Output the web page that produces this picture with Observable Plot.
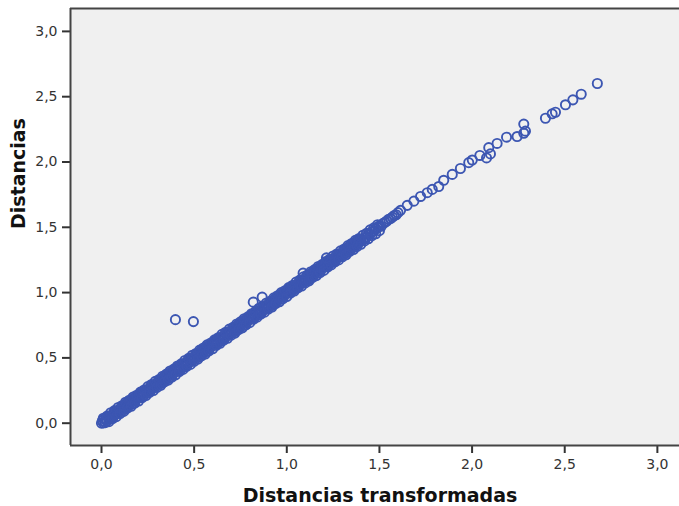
<!DOCTYPE html>
<html>
<head>
<meta charset="utf-8">
<script src="https://cdn.jsdelivr.net/npm/d3@7"></script>
<script src="https://cdn.jsdelivr.net/npm/@observablehq/plot@0.6"></script>
<style>
  html, body { margin: 0; padding: 0; background: #ffffff; }
  #chart svg [aria-label$="axis"] line,
  #chart svg [aria-label$="axis"] path,
  #chart svg [aria-label*="tick"] path { stroke-width: 2px; }
</style>
</head>
<body>
<div id="chart"></div>
<script>
// Dense band (x = Distancias transformadas, y = Distancias)
const bandX = [
  0.000,0.005,0.010,0.015,0.020,0.025,0.030,0.035,0.040,0.045,0.050,0.055,0.060,0.065,0.070,0.075,0.080,0.085,0.090,0.095,
  0.100,0.105,0.110,0.115,0.120,0.125,0.130,0.135,0.140,0.145,0.150,0.155,0.160,0.165,0.170,0.175,0.180,0.185,0.190,0.195,
  0.200,0.205,0.210,0.215,0.220,0.225,0.230,0.235,0.240,0.245,0.250,0.255,0.260,0.265,0.270,0.275,0.280,0.285,0.290,0.295,
  0.300,0.305,0.310,0.315,0.320,0.325,0.330,0.335,0.340,0.345,0.350,0.355,0.360,0.365,0.370,0.375,0.380,0.385,0.390,0.395,
  0.400,0.405,0.410,0.415,0.420,0.425,0.430,0.435,0.440,0.445,0.450,0.455,0.460,0.465,0.470,0.475,0.480,0.485,0.490,0.495,
  0.500,0.505,0.510,0.515,0.520,0.525,0.530,0.535,0.540,0.545,0.550,0.555,0.560,0.565,0.570,0.575,0.580,0.585,0.590,0.595,
  0.600,0.605,0.610,0.615,0.620,0.625,0.630,0.635,0.640,0.645,0.650,0.655,0.660,0.665,0.670,0.675,0.680,0.685,0.690,0.695,
  0.700,0.705,0.710,0.715,0.720,0.725,0.730,0.735,0.740,0.745,0.750,0.755,0.760,0.765,0.770,0.775,0.780,0.785,0.790,0.795,
  0.800,0.805,0.810,0.815,0.820,0.825,0.830,0.835,0.840,0.845,0.850,0.855,0.860,0.865,0.870,0.875,0.880,0.885,0.890,0.895,
  0.900,0.905,0.910,0.915,0.920,0.925,0.930,0.935,0.940,0.945,0.950,0.955,0.960,0.965,0.970,0.975,0.980,0.985,0.990,0.995,
  1.000,1.005,1.010,1.015,1.020,1.025,1.030,1.035,1.040,1.045,1.050,1.055,1.060,1.065,1.070,1.075,1.080,1.085,1.090,1.095,
  1.100,1.105,1.110,1.115,1.120,1.125,1.130,1.135,1.140,1.145,1.150,1.155,1.160,1.165,1.170,1.175,1.180,1.185,1.190,1.195,
  1.200,1.205,1.210,1.215,1.220,1.225,1.230,1.235,1.240,1.245,1.250,1.255,1.260,1.265,1.270,1.275,1.280,1.285,1.290,1.295,
  1.300,1.305,1.310,1.315,1.320,1.325,1.330,1.335,1.340,1.345,1.350,1.355,1.360,1.365,1.370,1.375,1.380,1.385,1.390,1.395,
  1.40,1.41,1.42,1.43,1.44,1.45,1.46,1.47,1.48,1.49,1.50,1.51,1.52,1.53,1.54,1.55,1.56,1.57,1.58,1.59,1.60
];
const bandY = [
  0.000,0.019,0.002,0.033,0.004,0.031,0.018,0.051,0.036,0.055,0.032,0.063,0.062,0.051,0.089,0.069,0.092,0.075,0.094,0.093,
  0.110,0.090,0.127,0.109,0.124,0.106,0.143,0.126,0.158,0.132,0.157,0.152,0.175,0.148,0.171,0.191,0.169,0.194,0.185,0.206,
  0.200,0.219,0.202,0.233,0.204,0.231,0.218,0.251,0.236,0.255,0.232,0.263,0.262,0.251,0.289,0.269,0.292,0.275,0.294,0.293,
  0.310,0.290,0.327,0.309,0.324,0.306,0.343,0.326,0.358,0.332,0.357,0.352,0.375,0.348,0.371,0.391,0.369,0.394,0.385,0.406,
  0.400,0.419,0.402,0.433,0.404,0.431,0.418,0.451,0.436,0.455,0.432,0.463,0.462,0.451,0.489,0.469,0.492,0.475,0.494,0.493,
  0.510,0.490,0.527,0.509,0.524,0.506,0.543,0.526,0.558,0.532,0.557,0.552,0.575,0.548,0.571,0.591,0.569,0.594,0.585,0.606,
  0.600,0.619,0.602,0.633,0.604,0.631,0.618,0.651,0.636,0.655,0.632,0.663,0.662,0.651,0.689,0.669,0.692,0.675,0.694,0.693,
  0.710,0.690,0.727,0.709,0.724,0.706,0.743,0.726,0.758,0.732,0.757,0.752,0.775,0.748,0.771,0.791,0.769,0.794,0.785,0.806,
  0.800,0.819,0.802,0.833,0.804,0.831,0.818,0.851,0.836,0.855,0.832,0.863,0.862,0.851,0.889,0.869,0.892,0.875,0.894,0.893,
  0.910,0.890,0.927,0.909,0.924,0.906,0.943,0.926,0.958,0.932,0.957,0.952,0.975,0.948,0.971,0.991,0.969,0.994,0.985,1.006,
  1.000,1.019,1.002,1.033,1.004,1.031,1.018,1.051,1.036,1.055,1.032,1.063,1.062,1.051,1.089,1.069,1.092,1.075,1.094,1.093,
  1.110,1.090,1.127,1.109,1.124,1.106,1.143,1.126,1.158,1.132,1.157,1.152,1.175,1.148,1.171,1.191,1.169,1.194,1.185,1.206,
  1.200,1.219,1.202,1.233,1.204,1.231,1.218,1.251,1.236,1.255,1.232,1.263,1.262,1.251,1.289,1.269,1.292,1.275,1.294,1.293,
  1.310,1.290,1.327,1.309,1.324,1.306,1.343,1.326,1.358,1.332,1.357,1.352,1.375,1.348,1.371,1.391,1.369,1.394,1.385,1.406,
  1.405,1.402,1.418,1.425,1.448,1.446,1.468,1.472,1.486,1.498,1.512,1.508,1.530,1.538,1.548,1.562,1.566,1.578,1.590,1.596,1.612
];
// Upper and lower fringe of the band
const upperX = [
  0.01,0.03,0.05,0.07,0.09,0.11,0.13,0.15,0.17,0.19,
  0.21,0.23,0.25,0.27,0.29,0.31,0.33,0.35,0.37,0.39,
  0.41,0.43,0.45,0.47,0.49,0.51,0.53,0.55,0.57,0.59,
  0.61,0.63,0.65,0.67,0.69,0.71,0.73,0.75,0.77,0.79,
  0.81,0.83,0.85,0.87,0.89,0.91,0.93,0.95,0.97,0.99,
  1.01,1.03,1.05,1.07,1.09,1.11,1.13,1.15,1.17,1.19,
  1.21,1.23,1.25,1.27,1.29,1.31,1.33,1.35,1.37,1.39,
  1.41,1.43,1.45,1.47,1.49
];
const upperY = [
  0.038,0.054,0.080,0.096,0.120,0.134,0.160,0.176,0.200,0.214,
  0.238,0.254,0.280,0.296,0.320,0.334,0.360,0.376,0.400,0.414,
  0.438,0.454,0.480,0.496,0.520,0.534,0.560,0.576,0.600,0.614,
  0.638,0.654,0.680,0.696,0.720,0.734,0.760,0.776,0.800,0.814,
  0.838,0.854,0.880,0.896,0.920,0.934,0.960,0.976,1.000,1.014,
  1.038,1.054,1.080,1.096,1.120,1.134,1.160,1.176,1.200,1.214,
  1.238,1.254,1.280,1.296,1.320,1.334,1.360,1.376,1.400,1.414,
  1.438,1.454,1.480,1.496,1.520
];
const lowerX = [
  0.04,0.06,0.08,0.10,0.12,0.14,0.16,0.18,0.20,0.22,
  0.24,0.26,0.28,0.30,0.32,0.34,0.36,0.38,0.40,0.42,
  0.44,0.46,0.48,0.50,0.52,0.54,0.56,0.58,0.60,0.62,
  0.64,0.66,0.68,0.70,0.72,0.74,0.76,0.78,0.80,0.82,
  0.84,0.86,0.88,0.90,0.92,0.94,0.96,0.98,1.00,1.02,
  1.04,1.06,1.08,1.10,1.12,1.14,1.16,1.18,1.20,1.22,
  1.24,1.26,1.28,1.30,1.32,1.34,1.36,1.38,1.40,1.42,
  1.44,1.46,1.48,1.50
];
const lowerY = [
  0.012,0.036,0.050,0.074,0.090,0.116,0.130,0.154,0.170,0.196,
  0.212,0.236,0.250,0.274,0.290,0.316,0.330,0.354,0.370,0.396,
  0.412,0.436,0.450,0.474,0.490,0.516,0.530,0.554,0.570,0.596,
  0.612,0.636,0.650,0.674,0.690,0.716,0.730,0.754,0.770,0.796,
  0.812,0.836,0.850,0.874,0.890,0.916,0.930,0.954,0.970,0.996,
  1.012,1.036,1.050,1.074,1.090,1.116,1.130,1.154,1.170,1.196,
  1.212,1.236,1.250,1.274,1.290,1.316,1.330,1.354,1.370,1.396,
  1.412,1.436,1.450,1.474
];
// Sparse upper tail
const tailX = [1.614,1.650,1.686,1.722,1.758,1.785,1.820,1.847,1.893,1.937,1.982,2.001,2.042,2.078,2.090,2.099,2.135,2.186,2.243,2.279,2.279,2.288,2.396,2.432,2.450,2.504,2.544,2.589,2.676];
const tailY = [1.630,1.668,1.700,1.736,1.765,1.790,1.812,1.860,1.905,1.950,1.995,2.015,2.050,2.031,2.110,2.062,2.142,2.190,2.195,2.220,2.290,2.236,2.335,2.369,2.381,2.438,2.476,2.519,2.601];
// Points off the line
const outlierX = [0.399,0.496,0.819,0.867,1.088,1.214];
const outlierY = [0.793,0.778,0.927,0.965,1.149,1.266];

const tickValues = [0, 0.5, 1.0, 1.5, 2.0, 2.5, 3.0];
const xTitle = "Distancias transformadas";
const yTitle = "Distancias";

const xDomain = [-0.1673, 3.1194];
const yDomain = [-0.1708, 3.1753];

const points = [];
bandX.forEach((v, i) => points.push({x: v, y: bandY[i]}));
upperX.forEach((v, i) => points.push({x: v, y: upperY[i]}));
lowerX.forEach((v, i) => points.push({x: v, y: lowerY[i]}));
tailX.forEach((v, i) => points.push({x: v, y: tailY[i]}));
outlierX.forEach((v, i) => points.push({x: v, y: outlierY[i]}));

const fmt = d => d.toFixed(1).replace(".", ",");
const frameColor = "#444444";
const dotColor = "#3c56b2";

const chart = Plot.plot({
  width: 679,
  height: 506,
  marginLeft: 70,
  marginRight: 0,
  marginTop: 8,
  marginBottom: 61,
  style: {fontFamily: "DejaVu Sans, sans-serif", fontSize: "14px", color: "#333333", background: "#ffffff"},
  x: {domain: xDomain, ticks: tickValues, tickFormat: fmt, tickSize: 8, tickPadding: 6, label: null},
  y: {domain: yDomain, ticks: tickValues, tickFormat: fmt, tickSize: 8, tickPadding: 5, label: null},
  marks: [
    Plot.frame({fill: "#f0f0f0", stroke: null}),
    Plot.ruleX([xDomain[0]], {stroke: frameColor, strokeWidth: 2}),
    Plot.ruleY([yDomain[0], yDomain[1]], {stroke: frameColor, strokeWidth: 2}),
    Plot.dot(points, {x: "x", y: "y", r: 4.6, stroke: dotColor, strokeWidth: 1.9, fill: "none"}),
    Plot.text([xTitle], {frameAnchor: "bottom", dy: 50, dx: 5, text: d => d, fontSize: 19, fontWeight: "bold", fill: "#111111", lineAnchor: "middle"}),
    Plot.text([yTitle], {frameAnchor: "left", dx: -52, dy: 2, rotate: -90, text: d => d, fontSize: 19, fontWeight: "bold", fill: "#111111", lineAnchor: "middle"})
  ]
});
document.getElementById("chart").appendChild(chart);
</script>
</body>
</html>
